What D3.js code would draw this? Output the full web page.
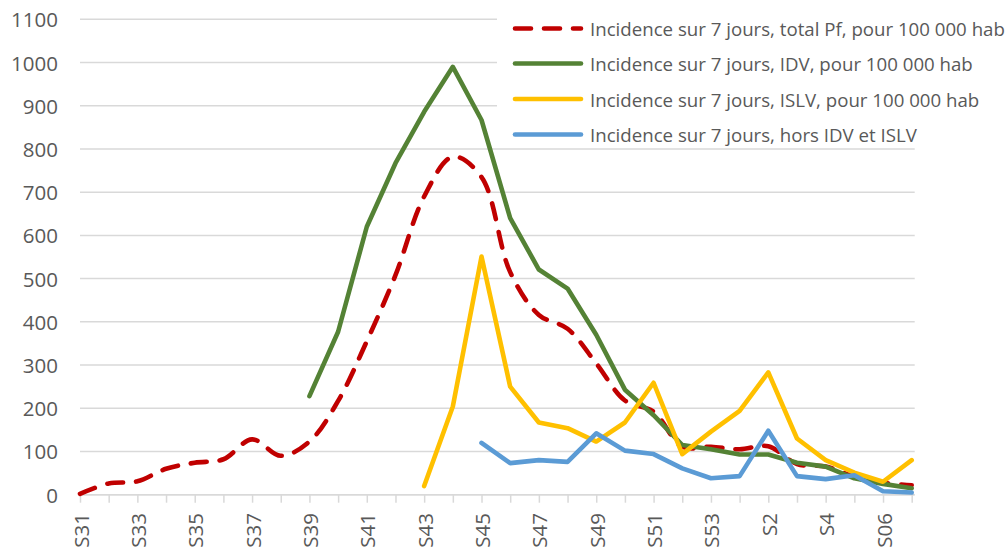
<!DOCTYPE html>
<html>
<head>
<meta charset="utf-8">
<script src="https://cdn.jsdelivr.net/npm/d3@7"></script>
<style>
  html, body { margin: 0; padding: 0; background: #fff; }
  svg { display: block; }
  text { font-family: "Open Sans", "Noto Sans", sans-serif; fill: #595959; }
</style>
</head>
<body>
<svg id="chart" width="1008" height="553"></svg>
<script>
const categories = ["S31","S32","S33","S34","S35","S36","S37","S38","S39","S40",
  "S41","S42","S43","S44","S45","S46","S47","S48","S49","S50",
  "S51","S52","S53","S1","S2","S3","S4","S5","S06","S07"];
const tickLabels = ["S31","S33","S35","S37","S39","S41","S43","S45","S47","S49","S51","S53","S2","S4","S06"];
const yTicks = [0,100,200,300,400,500,600,700,800,900,1000,1100];

const totalPf = [2, 26, 31, 60, 74, 82, 128, 90, 123, 217,
  355, 508, 690, 782, 735, 515, 416, 384, 304, 218,
  192, 111, 111, 105, 112, 71, 65, 42, 28, 22];
const idv = [null, null, null, null, null, null, null, null, 228, 377,
  620, 767, 886, 990, 867, 640, 521, 477, 370, 243,
  184, 115, 105, 93, 93, 74, 65, 38, 25, 15];
const islv = [null, null, null, null, null, null, null, null, null, null,
  null, null, 20, 204, 551, 250, 167, 154, 123, 167,
  259, 94, 146, 194, 283, 130, 80, 51, 30, 80];
const horsIdvIslv = [null, null, null, null, null, null, null, null, null, null,
  null, null, null, null, 120, 73, 80, 76, 142, 102,
  94, 61, 38, 43, 148, 43, 36, 45, 8, 5];

const seriesNames = [
  "Incidence sur 7 jours, total Pf, pour 100 000 hab",
  "Incidence sur 7 jours, IDV, pour 100 000 hab",
  "Incidence sur 7 jours, ISLV, pour 100 000 hab",
  "Incidence sur 7 jours, hors IDV et ISLV"
];
const seriesColors = ["#C00000", "#548235", "#FFC000", "#5B9BD5"];
const seriesData = [totalPf, idv, islv, horsIdvIslv];

const svg = d3.select("#chart");
const mLeft = 80, mRight = 911.7, mTop = 19.3, mBottom = 494.7;

const x = d3.scalePoint().domain(categories).range([mLeft, mRight]);
const y = d3.scaleLinear().domain([0, 1100]).range([mBottom, mTop]);

// gridlines
svg.append("g").selectAll("line").data(yTicks).join("line")
  .attr("x1", mLeft).attr("x2", mRight + 3)
  .attr("y1", d => y(d)).attr("y2", d => y(d))
  .attr("stroke", "#d9d9d9").attr("stroke-width", 1.5);

// y labels
svg.append("g").selectAll("text").data(yTicks).join("text")
  .attr("x", 58).attr("y", d => y(d))
  .attr("text-anchor", "end").attr("dominant-baseline", "central")
  .style("font-size", "20.5px")
  .text(d => d);

// x axis
const xAxis = d3.axisBottom(x).tickSize(8).tickPadding(0)
  .tickFormat(d => tickLabels.includes(d) ? d : "");
const gx = svg.append("g").attr("transform", `translate(0,${mBottom})`).call(xAxis);
gx.select(".domain").attr("stroke", "#d9d9d9").attr("stroke-width", 1.5)
  .attr("d", `M${mLeft},0H${mRight + 3}`);
gx.selectAll(".tick line").attr("stroke", "#d9d9d9").attr("stroke-width", 1.5);
gx.selectAll(".tick text")
  .attr("transform", "rotate(-90)")
  .attr("x", -(513 - mBottom)).attr("y", 0).attr("dy", null)
  .attr("text-anchor", "end").attr("dominant-baseline", "central")
  .style("font-size", "20.5px")
  .style("font-family", '"Open Sans", "Noto Sans", sans-serif')
  .attr("fill", "#595959");

// lines
const lineStraight = d3.line().defined(d => d.v != null)
  .x(d => x(d.c)).y(d => y(d.v));
const lineSmooth = d3.line().defined(d => d.v != null)
  .x(d => x(d.c)).y(d => y(d.v)).curve(d3.curveCatmullRom.alpha(0.5));

[0, 1, 2, 3].forEach(i => {
  const pts = categories.map((c, k) => ({ c, v: seriesData[i][k] }));
  const p = svg.append("path")
    .attr("d", (i === 0 ? lineSmooth : lineStraight)(pts))
    .attr("fill", "none")
    .attr("stroke", seriesColors[i])
    .attr("stroke-width", 4.6)
    .attr("stroke-linejoin", "round")
    .attr("stroke-linecap", "round");
  if (i === 0) p.attr("stroke-dasharray", "16,13");
});

// legend
const lg = svg.append("g");
lg.append("rect").attr("x", 497).attr("y", 8).attr("width", 511).attr("height", 137).attr("fill", "#fff");
const rowsY = [28.5, 63.5, 99, 134.5];
seriesNames.forEach((name, i) => {
  const l = lg.append("line")
    .attr("x1", 515).attr("x2", 581)
    .attr("y1", rowsY[i]).attr("y2", rowsY[i])
    .attr("stroke", seriesColors[i]).attr("stroke-width", 4.6)
    .attr("stroke-linecap", "round");
  if (i === 0) l.attr("stroke-dasharray", "16,13");
  lg.append("text").attr("class", "lgt")
    .attr("x", 590).attr("y", rowsY[i])
    .attr("dominant-baseline", "central")
    .style("font-size", "18px")
    .text(name);
});
const first = lg.select("text.lgt").node();
const w = first.getComputedTextLength();
const fs = 18 * 415 / w;
lg.selectAll("text.lgt").style("font-size", fs + "px");
</script>
</body>
</html>
